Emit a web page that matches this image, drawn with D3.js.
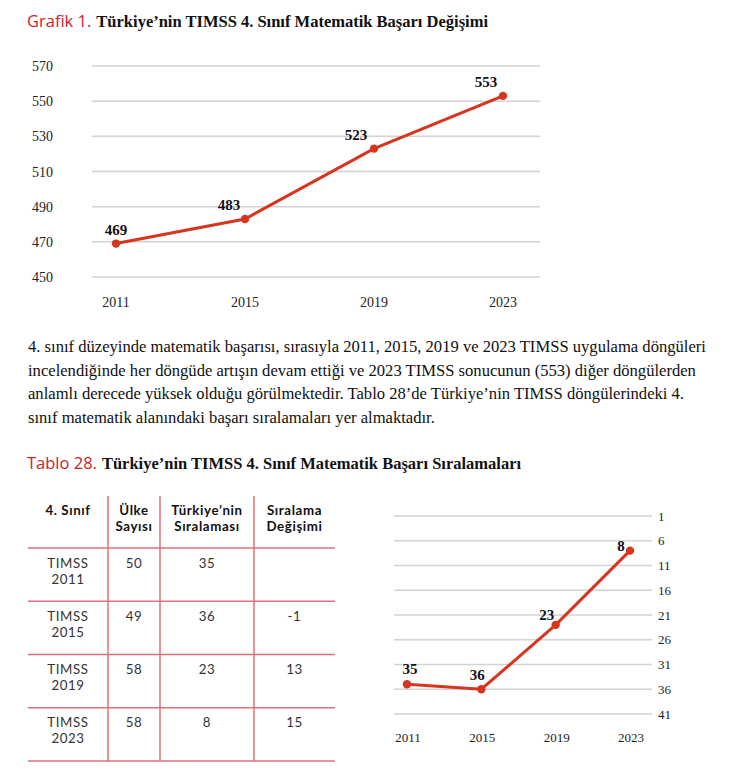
<!DOCTYPE html>
<html>
<head>
<meta charset="utf-8">
<script src="https://cdn.jsdelivr.net/npm/d3@7"></script>
<style>
  body { margin: 0; background: #fff; }
  svg text { font-family: "Liberation Serif", "Times New Roman", serif; }
  .sans { font-family: "Open Sans", "Noto Sans", sans-serif !important; }
  .cell { font-family: Lato, "Open Sans", sans-serif !important; letter-spacing: 0.6px; }
</style>
</head>
<body>
<svg id="page" width="744" height="782"></svg>
<script>
// ---- data ----
const years = ["2011", "2015", "2019", "2023"];
const scores = [469, 483, 523, 553];
const scoreTicks = [450, 470, 490, 510, 530, 550, 570];
const ranks = [35, 36, 23, 8];
const rankTicks = [1, 6, 11, 16, 21, 26, 31, 36, 41];

const tableHeaders = [["4. Sınıf"], ["Ülke", "Sayısı"], ["Türkiye’nin", "Sıralaması"], ["Sıralama", "Değişimi"]];
const cycles = ["TIMSS 2011", "TIMSS 2015", "TIMSS 2019", "TIMSS 2023"];
const countryCounts = [50, 49, 58, 58];
const rankChanges = ["", "-1", "13", "15"];

const paragraph = [
  "4. sınıf düzeyinde matematik başarısı, sırasıyla 2011, 2015, 2019 ve 2023 TIMSS uygulama döngüleri",
  "incelendiğinde her döngüde artışın devam ettiği ve 2023 TIMSS sonucunun (553) diğer döngülerden",
  "anlamlı derecede yüksek olduğu görülmektedir. Tablo 28’de Türkiye’nin TIMSS döngülerindeki 4.",
  "sınıf matematik alanındaki başarı sıralamaları yer almaktadır."
];

const RED = "#d1202f";
const LINE = "#d6361f";
const GRID = "#d3d3d3";
const TABLE_LINE = "#e2707b";
const SERIF = "'Liberation Serif', 'Times New Roman', serif";

let svg = d3.select("#page");

// caption helper: red sans label + bold serif title
function caption(x, y, label, title){
  let g = svg.append("g");
  let l = g.append("text").attr("class", "sans")
      .attr("x", x).attr("y", y)
      .attr("fill", RED).attr("font-size", 16.5)
      .text(label);
  let w = l.node().getComputedTextLength();
  g.append("text")
      .attr("x", x + w + 5).attr("y", y)
      .attr("font-family", SERIF)
      .attr("font-weight", "bold").attr("font-size", 16.5)
      .attr("fill", "#111")
      .text(title);
}

// one text element, one tspan per line
function cellText(g, x, y, lines, bold, color){
  let txt = g.append("text").attr("class", "cell")
    .attr("x", x).attr("y", y)
    .attr("text-anchor", "middle").attr("font-size", 13.3)
    .attr("font-weight", bold ? "bold" : "normal")
    .attr("fill", color);
  lines.forEach((s, k) => {
    txt.append("tspan").attr("x", x).attr("dy", k == 0 ? 0 : 16).text(s);
  });
}

caption(27, 27, "Grafik 1.", "Türkiye’nin TIMSS 4. Sınıf Matematik Başarı Değişimi");

// ---- chart 1 : scores ----
let x1 = d3.scalePoint().domain(years).range([116, 503]);
let y1 = d3.scaleLinear().domain([450, 570]).range([277, 66]);

let c1 = svg.append("g");
c1.selectAll("line.grid").data(scoreTicks).enter()
  .append("line").attr("class", "grid")
  .attr("x1", 92).attr("x2", 540)
  .attr("y1", d => y1(d)).attr("y2", d => y1(d))
  .attr("stroke", GRID).attr("stroke-width", 1.5);

c1.selectAll("text.ytick").data(scoreTicks).enter()
  .append("text").attr("class", "ytick")
  .attr("x", 53).attr("y", d => y1(d) + 5)
  .attr("text-anchor", "end").attr("font-size", 14).attr("fill", "#222")
  .text(d => d);

c1.selectAll("text.xtick").data(years).enter()
  .append("text").attr("class", "xtick")
  .attr("x", d => x1(d)).attr("y", 307)
  .attr("text-anchor", "middle").attr("font-size", 14).attr("fill", "#222")
  .text(d => d);

c1.append("path").datum(scores)
  .attr("fill", "none").attr("stroke", LINE).attr("stroke-width", 3)
  .attr("d", d3.line().x((d, i) => x1(years[i])).y(d => y1(d)));

c1.selectAll("circle").data(scores).enter()
  .append("circle")
  .attr("cx", (d, i) => x1(years[i])).attr("cy", d => y1(d))
  .attr("r", 4.2).attr("fill", LINE);

const scoreNudge = [0, -16, -18, -17];
c1.selectAll("text.val").data(scores).enter()
  .append("text").attr("class", "val")
  .attr("x", (d, i) => x1(years[i]) + scoreNudge[i]).attr("y", d => y1(d) - 9)
  .attr("text-anchor", "middle").attr("font-size", 15).attr("font-weight", "bold")
  .attr("fill", "#111")
  .text(d => d);

// ---- paragraph ----
svg.append("g").selectAll("text").data(paragraph).enter()
  .append("text")
  .attr("x", 28).attr("y", (d, i) => 352 + i * 23.7)
  .attr("font-family", SERIF)
  .attr("font-size", 16.6).attr("fill", "#111")
  .text(d => d);

caption(27, 469, "Tablo 28.", "Türkiye’nin TIMSS 4. Sınıf Matematik Başarı Sıralamaları");

// ---- table ----
let colEdges = [28, 108, 160, 254, 335];
let colMid = d3.range(4).map(i => (colEdges[i] + colEdges[i + 1]) / 2);
let rowY = d3.scaleLinear().domain([0, 4]).range([548, 761]);

let t = svg.append("g");
t.selectAll("line.h").data(d3.range(5)).enter()
  .append("line").attr("class", "h")
  .attr("x1", colEdges[0]).attr("x2", colEdges[4])
  .attr("y1", d => rowY(d)).attr("y2", d => rowY(d))
  .attr("stroke", TABLE_LINE).attr("stroke-width", 1.5);

t.selectAll("line.v").data(colEdges.slice(1, 4)).enter()
  .append("line").attr("class", "v")
  .attr("x1", d => d).attr("x2", d => d)
  .attr("y1", 496).attr("y2", rowY(4))
  .attr("stroke", TABLE_LINE).attr("stroke-width", 1.5);

tableHeaders.forEach((lines, c) => {
  cellText(t, colMid[c], 515, lines, true, "#111");
});

cycles.forEach((cyc, r) => {
  let top = rowY(r);
  let cells = [cyc.split(" "), [String(countryCounts[r])], [String(ranks[r])], [rankChanges[r]]];
  cells.forEach((lines, c) => {
    cellText(t, colMid[c], top + 19.5, lines, false, "#333");
  });
});

// ---- chart 2 : ranks ----
let x2 = d3.scalePoint().domain(years).range([407, 630]);
let y2 = d3.scaleLinear().domain([1, 41]).range([516, 714]);

let c2 = svg.append("g");
c2.selectAll("line.grid").data(rankTicks).enter()
  .append("line").attr("class", "grid")
  .attr("x1", 394).attr("x2", 652)
  .attr("y1", d => y2(d)).attr("y2", d => y2(d))
  .attr("stroke", GRID).attr("stroke-width", 1.5);

c2.selectAll("text.ytick").data(rankTicks).enter()
  .append("text").attr("class", "ytick")
  .attr("x", 658).attr("y", d => y2(d) + 4.5)
  .attr("font-size", 13).attr("fill", "#222")
  .text(d => d);

c2.selectAll("text.xtick").data(years).enter()
  .append("text").attr("class", "xtick")
  .attr("x", d => x2(d) + 1).attr("y", 742)
  .attr("text-anchor", "middle").attr("font-size", 13).attr("fill", "#222")
  .text(d => d);

c2.append("path").datum(ranks)
  .attr("fill", "none").attr("stroke", LINE).attr("stroke-width", 3)
  .attr("d", d3.line().x((d, i) => x2(years[i])).y(d => y2(d)));

c2.selectAll("circle").data(ranks).enter()
  .append("circle")
  .attr("cx", (d, i) => x2(years[i])).attr("cy", d => y2(d))
  .attr("r", 4.2).attr("fill", LINE);

const rankNudge = [[3, -10], [-4, -9], [-9, -5], [-9, 0]];
c2.selectAll("text.val").data(ranks).enter()
  .append("text").attr("class", "val")
  .attr("x", (d, i) => x2(years[i]) + rankNudge[i][0])
  .attr("y", (d, i) => y2(d) + rankNudge[i][1])
  .attr("text-anchor", "middle").attr("font-size", 15).attr("font-weight", "bold")
  .attr("fill", "#111")
  .text(d => d);
</script>
</body>
</html>
